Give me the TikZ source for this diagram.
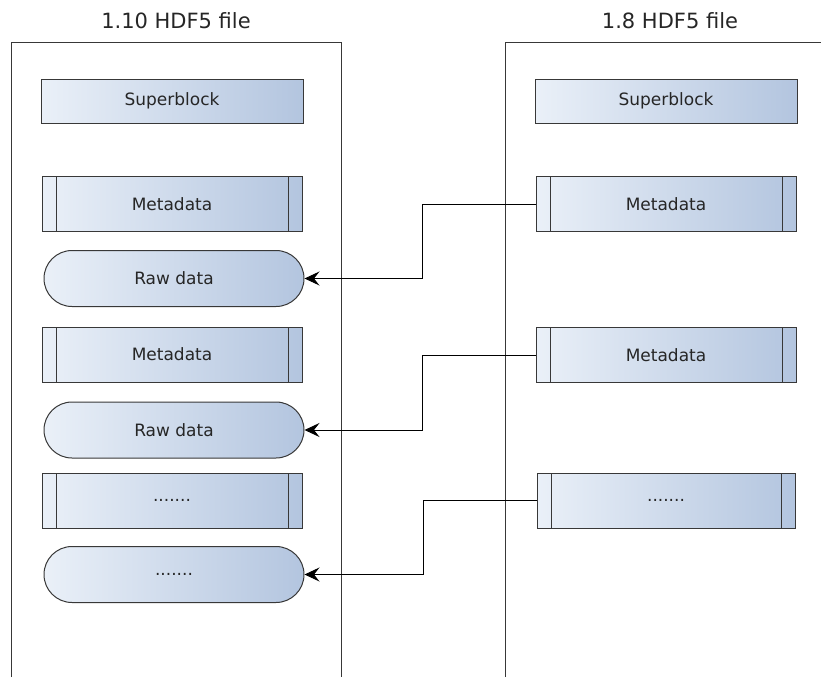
\documentclass[tikz,border=0pt]{standalone}
\usepackage{fontspec}
\setmainfont{DejaVu Sans}
\usetikzlibrary{shapes.misc,arrows.meta}

\definecolor{blockLeft}{HTML}{EAF0F8}
\definecolor{blockRight}{HTML}{B3C5DF}
\definecolor{blockBorder}{HTML}{383838}

\newcommand{\newFileX}{172}
\newcommand{\oldFileX}{666}
\newcommand{\rawX}{174}
\newcommand{\blockWidth}{260}
\newcommand{\blockHeight}{55}
\newcommand{\barInset}{14}
\newcommand{\elbowLen}{113}
\newcommand{\frameTop}{43}

\tikzset{
  block/.style={draw=blockBorder, line width=1pt, left color=blockLeft, right color=blockRight,
    minimum width=\blockWidth pt, minimum height=\blockHeight pt, inner sep=0pt,
    font=\fontsize{17}{20}\selectfont, text=black!85},
  superblock/.style={block, minimum width=262pt, minimum height=44pt},
  metablock/.style={block, path picture={
    \draw[blockBorder, line width=1pt]
      ([xshift=\barInset pt]path picture bounding box.north west) -- ([xshift=\barInset pt]path picture bounding box.south west)
      ([xshift=-\barInset pt]path picture bounding box.north east) -- ([xshift=-\barInset pt]path picture bounding box.south east);}},
  rawblock/.style={block, rounded rectangle, minimum height=56pt},
  filetitle/.style={font=\fontsize{21}{24}\selectfont, text=black!85},
  frame/.style={draw=blockBorder, line width=1pt},
  link/.style={draw=black, line width=1pt, -{Stealth[length=15pt, width=14pt, inset=5.5pt]}}
}

\begin{document}
\begin{tikzpicture}[x=1pt, y=-1pt]
    \useasboundingbox (0,0) rectangle (821,677);

    % File outlines
    \draw[frame] (11,677) -- (11,\frameTop) -- (341,\frameTop) -- (341,677);
    \draw[frame] (505,677) -- (505,\frameTop) -- (821,\frameTop);
    \node[filetitle] (newTitle) at (176,21) {1.10 HDF5 file};
    \node[filetitle] (oldTitle) at (670,21) {1.8 HDF5 file};

    % 1.10 file layout
    \node[superblock] (sbNew) at (\newFileX,101) {Superblock};
    \node[metablock] (mdNewA) at (\newFileX,204) {Metadata};
    \node[rawblock] (rawNewA) at (\rawX,278.5) {Raw data};
    \node[metablock] (mdNewB) at (\newFileX,354.5) {Metadata};
    \node[rawblock] (rawNewB) at (\rawX,430) {Raw data};
    \node[metablock] (mdNewC) at (\newFileX,500.5) {.......};
    \node[rawblock] (rawNewC) at (\rawX,574.5) {.......};

    % 1.8 file layout
    \node[superblock] (sbOld) at (\oldFileX,101) {Superblock};
    \node[metablock] (mdOldA) at (\oldFileX,204) {Metadata};
    \node[metablock] (mdOldB) at (\oldFileX,355) {Metadata};
    \node[metablock, minimum width=258pt] (mdOldC) at (\oldFileX,500.5) {.......};

    % Metadata pointing at raw data
    \draw[link] (mdOldA.west) -- ++(-\elbowLen,0) |- (rawNewA.east);
    \draw[link] (mdOldB.west) -- ++(-\elbowLen,0) |- (rawNewB.east);
    \draw[link] (mdOldC.west) -- ++(-\elbowLen,0) |- (rawNewC.east);
\end{tikzpicture}
\end{document}
